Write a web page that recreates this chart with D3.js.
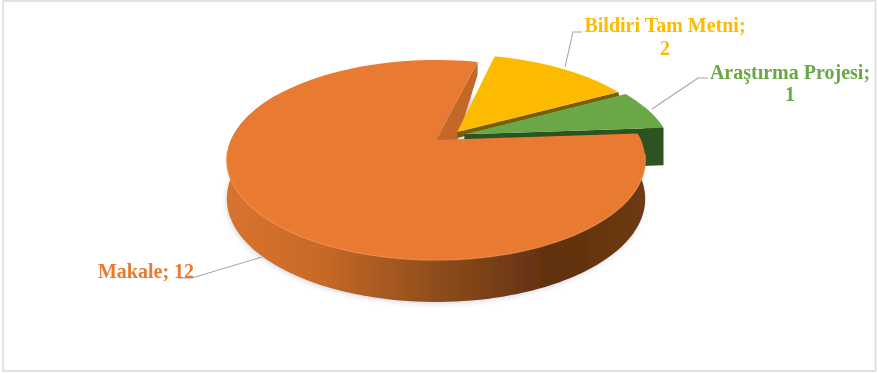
<!DOCTYPE html>
<html><head><meta charset="utf-8">
<style>html,body{margin:0;padding:0;background:#fff}svg{display:block}text{font-family:"Liberation Serif",serif;font-weight:700;font-size:20px}</style>
<script src="https://cdn.jsdelivr.net/npm/d3@7"></script></head><body>
<svg id="c" width="878" height="374"></svg>
<script>
const categories = ["Bildiri Tam Metni", "Araştırma Projesi", "Makale"];
const values = [2, 1, 12];
const topColors = ["#fdbb05", "#6aa846", "#e87a30"];
const sideColors = ["#7a5c00", "#2d5320", "#c4682c"];
const explodeU = [0.105, 0.14, 0];
const explodeV = [-0.085, -0.06, 0];
const firstSliceDeg = 14;
const labelLines = [["Bildiri Tam Metni;", "2"], ["Araştırma Projesi;", "1"], ["Makale; 12"]];
const labelColors = ["#fdbb05", "#6aa846", "#e87a30"];

const svg = d3.select("#c");
const defs = svg.append("defs");
const f = defs.append("filter").attr("id","soft").attr("x","-5%").attr("y","-5%").attr("width","110%").attr("height","110%");
f.append("feGaussianBlur").attr("stdDeviation",0.6);
const tf = defs.append("filter").attr("id","softText").attr("x","-5%").attr("y","-20%").attr("width","110%").attr("height","140%");
tf.append("feGaussianBlur").attr("stdDeviation",0.35);
const s = defs.append("filter").attr("id","shadow").attr("x","-10%").attr("y","-10%").attr("width","120%").attr("height","120%");
s.append("feGaussianBlur").attr("stdDeviation",2.5);
const g1 = defs.append("linearGradient").attr("id","oside").attr("gradientUnits","userSpaceOnUse").attr("x1",226).attr("x2",645).attr("y1",0).attr("y2",0);
[[0,"#d9732e"],[0.22,"#c96a28"],[0.5,"#8f4d1c"],[0.78,"#5f3010"],[1,"#6e3a12"]].forEach(d=>g1.append("stop").attr("offset",d[0]).attr("stop-color",d[1]));

// perspective projection of the pie disk; u to the right, v toward the viewer
const cx = 436, cy = 140, k = 0.2, a = 96, b = 205;
const project = (u, v, lower) => {
  const w = 1 - k * v;
  return [cx + b * u / w, cy + a * v / w + (lower ? 38 + 4 * v : 0)];
};
const pie = d3.pie().sort(null).startAngle(firstSliceDeg * Math.PI / 180).endAngle((firstSliceDeg + 360) * Math.PI / 180);
const arcs = pie(values);
const line = d3.line();
const rim = (d, i, t0, t1, lower) => d3.range(0, 121).map(j => {
  const t = t0 + (t1 - t0) * j / 120;
  return project(explodeU[i] + Math.sin(t), explodeV[i] - Math.cos(t), lower);
});
const apex = (i, lower) => project(explodeU[i], explodeV[i], lower);
const chart = svg.append("g").attr("filter","url(#soft)");

svg.insert("rect", "g").attr("x",3).attr("y",1).attr("width",872.5).attr("height",370).attr("fill","#fff").attr("stroke","#d9d9d9").attr("stroke-width",1.5);

const mk = arcs[2];
chart.append("path").attr("d", line(rim(mk,2,mk.startAngle,mk.endAngle,true).map(p=>[p[0]-1,p[1]+2]))+"Z").attr("fill","#b9c3d6").attr("opacity",0.55).attr("filter","url(#shadow)");

// Makale's cut face at its end edge sits behind the exploded slices
const mkTop = rim(mk,2,mk.startAngle,mk.endAngle,false);
const mkEnd = mkTop[120];
const yA = apex(0,false);
chart.append("path").attr("d", line([apex(2,false), mkEnd, [mkEnd[0], mkEnd[1]+13], [yA[0], yA[1]+9], [yA[0]-4, yA[1]+9]])+"Z").attr("fill", sideColors[2]);

// Bildiri: only a thin dark lip shows under its top face
const yd = arcs[0];
const yTop = rim(yd,0,yd.startAngle,yd.endAngle,false);
const yTip = yTop[120];
chart.append("path").attr("d", line([yA, yTip, [yTip[0]+1, yTip[1]+4], [yA[0], yA[1]+6]])+"Z").attr("fill", sideColors[0]);
chart.append("path").attr("d", line([yA].concat(yTop))+"Z").attr("fill", topColors[0]);

// Araştırma: full dark wall
const gd = arcs[1];
const gTop = rim(gd,1,gd.startAngle,gd.endAngle,false);
const gLow = rim(gd,1,gd.startAngle,gd.endAngle,true);
const gA = apex(1,false), gB = apex(1,true);
chart.append("path").attr("d", line([gA, gTop[120], gLow[120], gB])+"Z").attr("fill", sideColors[1]);
chart.append("path").attr("d", line(gTop.slice(50).concat(gLow.slice(50).reverse()))+"Z").attr("fill", sideColors[1]);
chart.append("path").attr("d", line([gA].concat(gTop))+"Z").attr("fill", topColors[1]);

// Makale's front wall and top face
const wallEnd = mk.startAngle + 215 * Math.PI / 180;
const wallTop = rim(mk,2,mk.startAngle,wallEnd,false);
const wallLow = rim(mk,2,mk.startAngle,wallEnd,true);
chart.append("path").attr("d", line(wallTop.concat(wallLow.slice().reverse()))+"Z").attr("fill","url(#oside)");
chart.append("path").attr("d", line([apex(2,false)].concat(mkTop))+"Z").attr("fill", topColors[2]);
chart.append("path").attr("d", line(mkTop.slice(5, 75))).attr("fill","none").attr("stroke","#ee8a48").attr("stroke-width",1.6).attr("opacity",0.7);

const leaders = [
  [[565,67],[573,32],[582,32]],
  [[652,109],[698,78],[708,78]],
  [[262,257],[192,278],[178,278]]
];
svg.selectAll("path.leader").data(leaders).join("path").attr("class","leader")
  .attr("d", d => line(d)).attr("fill","none").attr("stroke","#a6a6a6").attr("stroke-width",1.1);

const labelPos = [[665,32,23],[790,79,22],[146,278,0]];
labelLines.forEach((ls,i) => {
  ls.forEach((t,j) => svg.append("text").attr("filter","url(#softText)")
    .attr("x",labelPos[i][0]).attr("y",labelPos[i][1]+j*labelPos[i][2])
    .attr("text-anchor","middle").attr("fill",labelColors[i]).text(t));
});
</script></body></html>
